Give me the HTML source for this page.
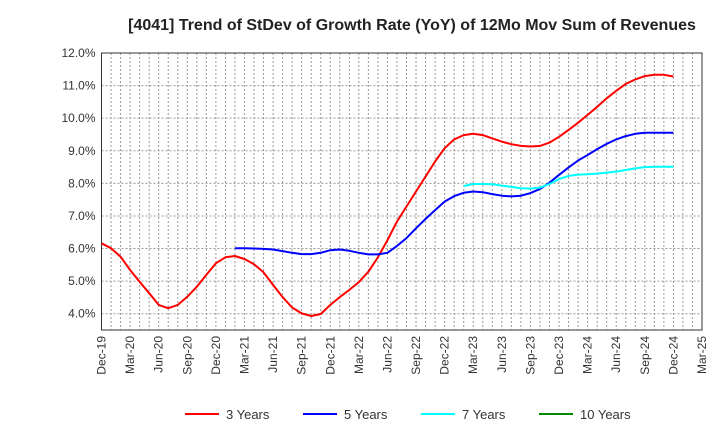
<!DOCTYPE html>
<html><head><meta charset="utf-8"><style>
body{margin:0;background:#fff;font-family:"Liberation Sans",sans-serif}
</style></head><body>
<svg id="c" width="720" height="440" xmlns="http://www.w3.org/2000/svg" font-family="Liberation Sans, sans-serif">
<text x="412" y="30" text-anchor="middle" font-size="16" font-weight="bold" fill="#222">[4041]  Trend of StDev of Growth Rate (YoY) of 12Mo Mov Sum of Revenues</text>
<g id="grid"></g><g id="axes"></g><g id="series"></g><g id="legend"></g>
</svg>
<script>
const yTicks=[4,5,6,7,8,9,10,11,12];
const xLabels=["Dec-19","Mar-20","Jun-20","Sep-20","Dec-20","Mar-21","Jun-21","Sep-21","Dec-21","Mar-22","Jun-22","Sep-22","Dec-22","Mar-23","Jun-23","Sep-23","Dec-23","Mar-24","Jun-24","Sep-24","Dec-24","Mar-25"];
const s3Start=0;
const s3=[6.16,6.01,5.75,5.34,4.98,4.63,4.27,4.17,4.27,4.52,4.83,5.19,5.55,5.73,5.77,5.68,5.52,5.27,4.88,4.51,4.19,4.01,3.93,3.99,4.27,4.51,4.73,4.97,5.29,5.73,6.26,6.83,7.29,7.75,8.21,8.67,9.08,9.35,9.48,9.52,9.48,9.38,9.28,9.2,9.15,9.13,9.15,9.25,9.43,9.64,9.86,10.1,10.35,10.61,10.84,11.05,11.19,11.29,11.33,11.33,11.28];
const s5Start=14;
const s5=[6.01,6.01,6.0,5.99,5.97,5.92,5.87,5.83,5.83,5.87,5.95,5.97,5.93,5.87,5.82,5.82,5.87,6.08,6.32,6.62,6.91,7.18,7.44,7.61,7.71,7.75,7.73,7.67,7.62,7.6,7.62,7.7,7.83,8.02,8.26,8.49,8.7,8.87,9.05,9.21,9.35,9.45,9.52,9.55,9.55,9.55,9.55];
const s7Start=38;
const s7=[7.92,7.98,7.98,7.97,7.93,7.89,7.85,7.84,7.87,7.98,8.13,8.23,8.27,8.28,8.3,8.33,8.36,8.41,8.46,8.5,8.51,8.51,8.51];
const L=101.5,R=702,T=53,B=330,NM=63,YMIN=3.5,YMAX=12;
const X=m=>L+(R-L)*m/NM;
const Y=v=>B-(B-T)*(v-YMIN)/(YMAX-YMIN);
const NS="http://www.w3.org/2000/svg";
function mk(p,t,a){const e=document.createElementNS(NS,t);for(const k in a)e.setAttribute(k,a[k]);p.appendChild(e);return e;}
const grid=document.getElementById('grid'),axes=document.getElementById('axes'),ser=document.getElementById('series'),leg=document.getElementById('legend');
for(let m=1;m<NM;m++){const g=mk(grid,'line',{x1:X(m),x2:X(m),y1:T,y2:B,stroke:'#999','stroke-width':1,'stroke-dasharray':'2,2'});

}
yTicks.forEach(v=>{const g=mk(grid,'line',{x1:L,x2:R,y1:Y(v),y2:Y(v),stroke:'#999','stroke-width':1,'stroke-dasharray':'2,2'});


const t=mk(axes,'text',{x:L-6,y:Y(v)+4,'text-anchor':'end','font-size':12,fill:'#333'});t.textContent=v.toFixed(1)+'%';

});
const fr=mk(axes,'rect',{x:L,y:T,width:R-L,height:B-T,fill:'none',stroke:'#333','stroke-width':1});


xLabels.forEach((s,i)=>{const x=X(i*3);const t=mk(axes,'text',{x:0,y:0,transform:`translate(${x+4},${B+6}) rotate(-90)`,'text-anchor':'end','font-size':12,fill:'#333'});t.textContent=s;

});
function line(arr,start,col,name){const d=arr.map((v,i)=>(i?'L':'M')+X(start+i).toFixed(1)+','+Y(v).toFixed(1)).join(' ');
const p=mk(ser,'path',{d:d,fill:'none',stroke:col,'stroke-width':2,'stroke-linejoin':'round'});

}
line(s3,s3Start,'#f00','line-3-years');
line(s5,s5Start,'#00f','line-5-years');
line(s7,s7Start,'#0ff','line-7-years');
const items=[["3 Years","#f00",185],["5 Years","#00f",303],["7 Years","#0ff",421],["10 Years","#080",539]];
items.forEach(([n,c,x])=>{const g=mk(leg,'g',{});


mk(g,'line',{x1:x,x2:x+34,y1:414,y2:414,stroke:c,'stroke-width':2});
const t=mk(g,'text',{x:x+41,y:419,'font-size':13,fill:'#333'});t.textContent=n;});
</script>
</body></html>
